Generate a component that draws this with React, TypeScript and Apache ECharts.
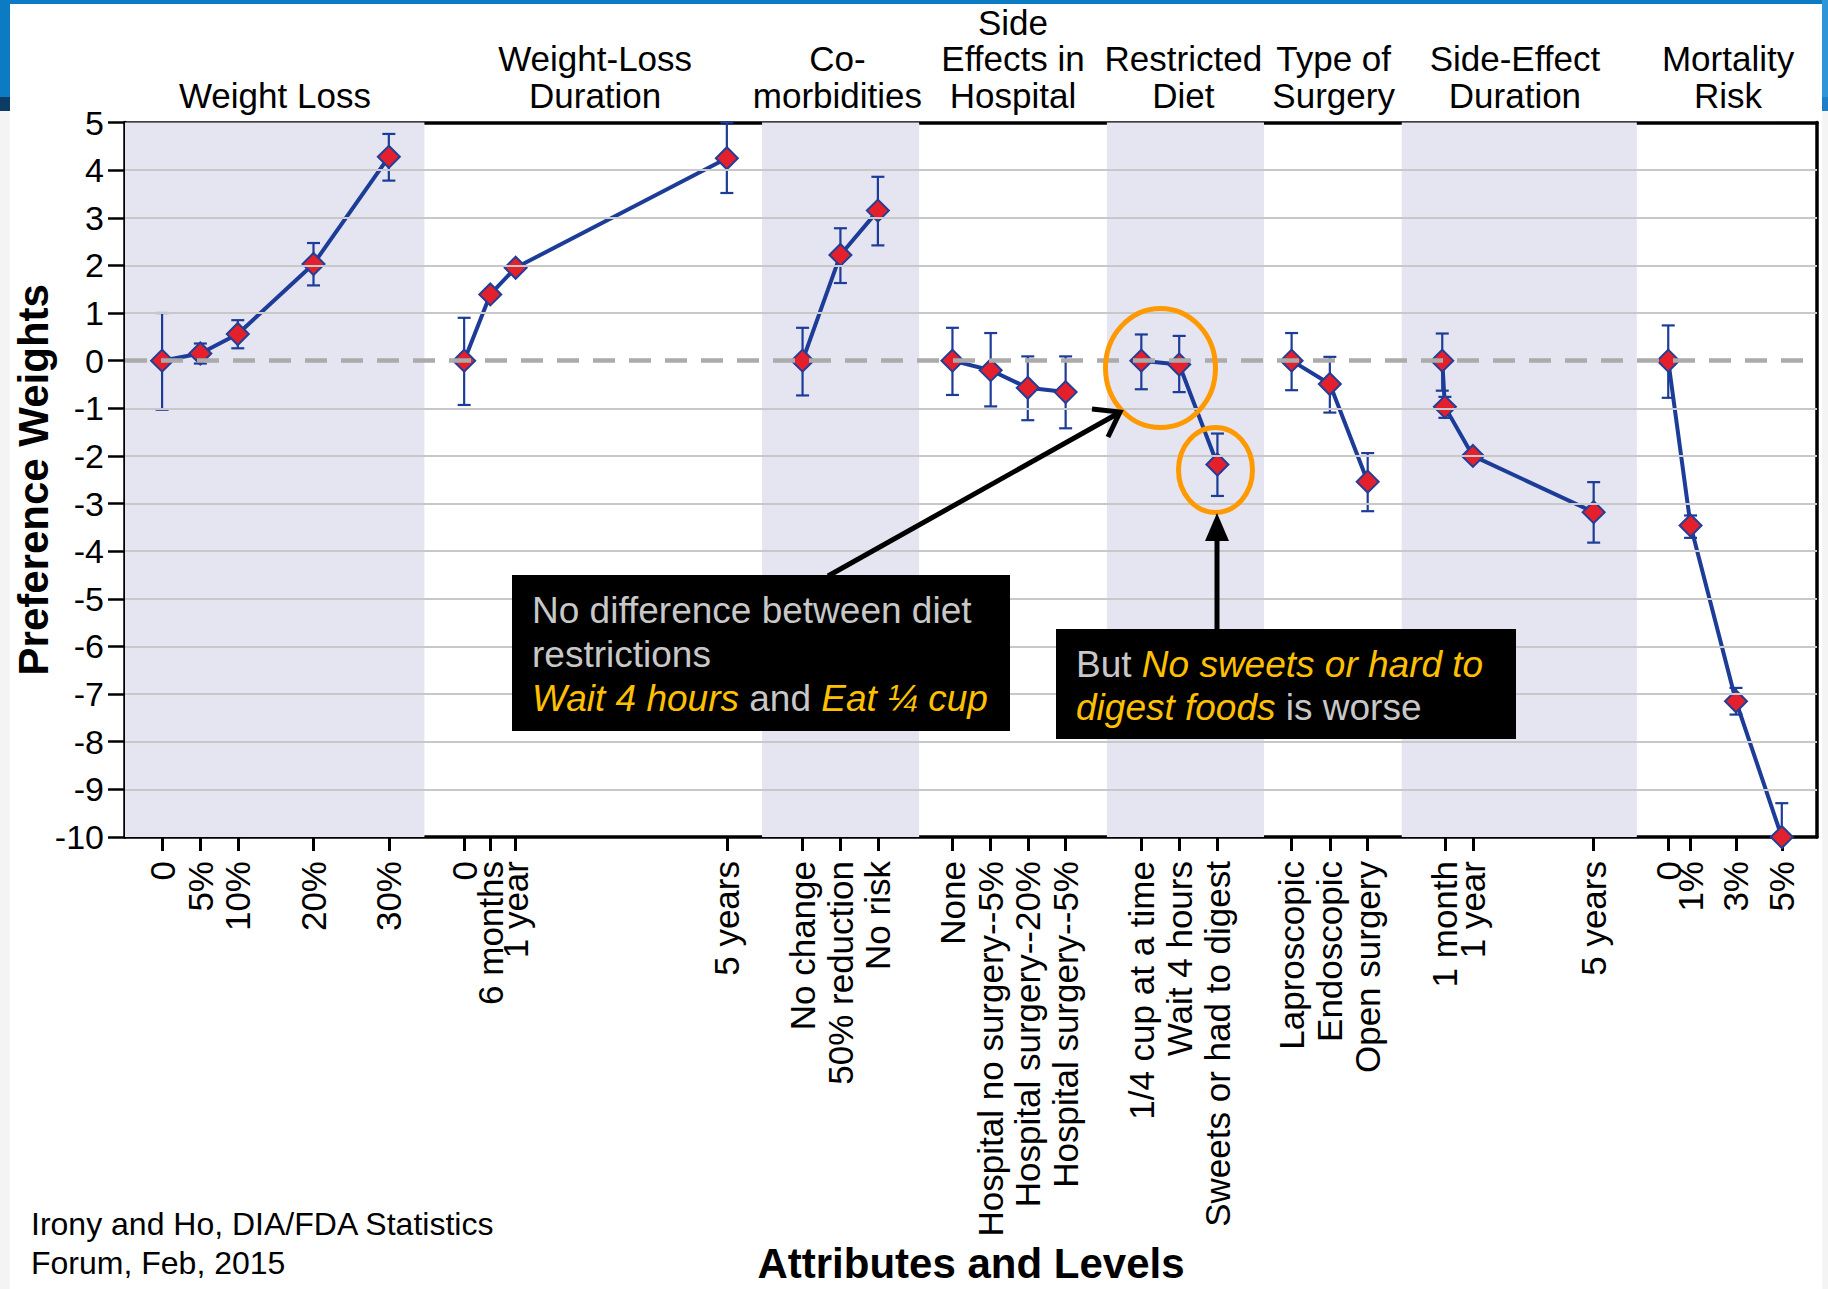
import React, { useEffect, useRef } from 'react';
import * as echarts from 'echarts';

// ---------- data ----------
const attributeNames = [
  'Weight Loss',
  'Weight-Loss\nDuration',
  'Co-\nmorbidities',
  'Side\nEffects in\nHospital',
  'Restricted\nDiet',
  'Type of\nSurgery',
  'Side-Effect\nDuration',
  'Mortality\nRisk',
];
const attributeCenters = [3.96, 12.42, 18.82, 23.46, 27.96, 31.93, 36.72, 42.35];

// shaded attribute bands (x extents)
const bandStart = [0, 16.83, 25.94, 33.73];
const bandEnd = [7.91, 20.98, 30.09, 39.94];

// weight loss
const wlLevels = ['0', '5%', '10%', '20%', '30%'];
const wlPos = [0.98, 1.99, 2.98, 4.98, 6.97];
const wlVal = [0, 0.15, 0.56, 2.03, 4.28];
const wlLow = [-1.03, -0.06, 0.26, 1.58, 3.78];
const wlHigh = [1.0, 0.36, 0.85, 2.47, 4.76];

// weight-loss duration
const wldLevels = ['0', '6 months', '1 year', '5 years'];
const wldPos = [8.96, 9.65, 10.32, 15.9];
const wldVal = [0, 1.39, 1.95, 4.25];
const wldLow = [-0.93, 1.35, 1.91, 3.52];
const wldHigh = [0.9, 1.43, 1.99, 5.0];

// co-morbidities
const comLevels = ['No change', '50% reduction', 'No risk'];
const comPos = [17.9, 18.9, 19.89];
const comVal = [0, 2.22, 3.15];
const comLow = [-0.73, 1.63, 2.42];
const comHigh = [0.69, 2.78, 3.86];

// side effects in hospital
const sehLevels = ['None', 'Hospital no surgery--5%', 'Hospital surgery--20%', 'Hospital surgery--5%'];
const sehPos = [21.86, 22.87, 23.85, 24.85];
const sehVal = [0, -0.2, -0.57, -0.66];
const sehLow = [-0.72, -0.96, -1.25, -1.42];
const sehHigh = [0.69, 0.58, 0.09, 0.09];

// restricted diet
const rdLevels = ['1/4 cup at a time', 'Wait 4 hours', 'Sweets or had to digest'];
const rdPos = [26.85, 27.85, 28.86];
const rdVal = [0, -0.08, -2.18];
const rdLow = [-0.6, -0.66, -2.84];
const rdHigh = [0.55, 0.52, -1.53];

// type of surgery
const tsLevels = ['Laproscopic', 'Endoscopic', 'Open surgery'];
const tsPos = [30.82, 31.83, 32.83];
const tsVal = [0, -0.49, -2.54];
const tsLow = [-0.62, -1.09, -3.16];
const tsHigh = [0.58, 0.08, -1.94];

// side-effect duration
const sedLevels = ['', '1 month', '1 year', '5 years'];
const sedPos = [34.8, 34.87, 35.61, 38.8];
const sedVal = [0, -0.97, -2.0, -3.18];
const sedLow = [-0.63, -1.2, -2.08, -3.82];
const sedHigh = [0.57, -0.76, -1.92, -2.55];

// mortality risk
const mrLevels = ['0', '1%', '3%', '5%'];
const mrPos = [40.77, 41.36, 42.56, 43.77];
const mrVal = [0, -3.46, -7.15, -10.0];
const mrLow = [-0.78, -3.72, -7.43, -10.0];
const mrHigh = [0.74, -3.25, -6.87, -9.29];

const yGridValues = [4, 3, 2, 1, -1, -2, -3, -4, -5, -6, -7, -8, -9];

// ---------- styling ----------
const FONT = '"Liberation Sans", Arial, sans-serif';
const LINE_BLUE = '#1c3c98';
const MARK_RED = '#e5202d';

export default function App() {
  const ref = useRef<HTMLDivElement>(null);

  useEffect(() => {
    document.body.style.margin = '0';
    const chart = echarts.init(ref.current as HTMLDivElement, undefined, { renderer: 'svg' });

    const groups = [
      { labels: wlLevels, pos: wlPos, val: wlVal, lo: wlLow, hi: wlHigh },
      { labels: wldLevels, pos: wldPos, val: wldVal, lo: wldLow, hi: wldHigh },
      { labels: comLevels, pos: comPos, val: comVal, lo: comLow, hi: comHigh },
      { labels: sehLevels, pos: sehPos, val: sehVal, lo: sehLow, hi: sehHigh },
      { labels: rdLevels, pos: rdPos, val: rdVal, lo: rdLow, hi: rdHigh },
      { labels: tsLevels, pos: tsPos, val: tsVal, lo: tsLow, hi: tsHigh },
      { labels: sedLevels, pos: sedPos, val: sedVal, lo: sedLow, hi: sedHigh },
      { labels: mrLevels, pos: mrPos, val: mrVal, lo: mrLow, hi: mrHigh },
    ];

    const tickPos: number[] = [];
    const tickLab: string[] = [];
    const errData: number[][] = [];
    groups.forEach((g) => {
      g.labels.forEach((l, i) => {
        if (l) {
          tickPos.push(g.pos[i]);
          tickLab.push(l);
        }
        errData.push([g.pos[i], g.lo[i], g.hi[i]]);
      });
    });

    const lookup = (vals: number[], labs: string[], v: number) => {
      let best = -1;
      let bd = 1e9;
      vals.forEach((p, i) => {
        const d = Math.abs(p - v);
        if (d < bd) {
          bd = d;
          best = i;
        }
      });
      return bd < 1e-3 ? labs[best] : '';
    };

    const XMAX = 44.7;

    const option: any = {
      animation: false,
      backgroundColor: '#ffffff',
      grid: {
        left: 125,
        top: 122.5,
        width: 1692,
        height: 714.5,
        containLabel: false,
        outerBoundsMode: 'none',
      },
      xAxis: [
        {
          type: 'value',
          min: 0,
          max: XMAX,
          position: 'bottom',
          name: 'Attributes and Levels',
          nameLocation: 'middle',
          nameGap: 405,
          nameMoveOverlap: false,
          nameTextStyle: { fontSize: 42, lineHeight: 42, fontWeight: 'bold', color: '#000', fontFamily: FONT },
          axisLine: { show: true, onZero: false, lineStyle: { color: '#000', width: 3.5 } },
          axisTick: { show: true, customValues: tickPos, length: 14, lineStyle: { color: '#000', width: 3 } },
          axisLabel: {
            customValues: tickPos,
            rotate: 90,
            margin: 24,
            fontSize: 35,
            color: '#000',
            fontFamily: FONT,
            formatter: (v: number) => lookup(tickPos, tickLab, v),
          },
          splitLine: { show: false },
        },
        {
          type: 'value',
          min: 0,
          max: XMAX,
          position: 'top',
          axisLine: { show: true, onZero: false, lineStyle: { color: '#000', width: 3.5 } },
          axisTick: { show: false },
          axisLabel: {
            customValues: attributeCenters,
            margin: 9,
            fontSize: 35,
            lineHeight: 36.5,
            color: '#000',
            fontFamily: FONT,
            align: 'center',
            formatter: (v: number) => lookup(attributeCenters, attributeNames, v),
          },
          splitLine: { show: false },
        },
      ],
      yAxis: [
        {
          type: 'value',
          min: -10,
          max: 5,
          interval: 1,
          position: 'left',
          name: 'Preference Weights',
          nameLocation: 'middle',
          nameGap: 71,
          nameMoveOverlap: false,
          nameTextStyle: { fontSize: 42, lineHeight: 42, fontWeight: 'bold', color: '#000', fontFamily: FONT },
          axisLine: { show: true, onZero: false, lineStyle: { color: '#000', width: 3.5 } },
          axisTick: { show: true, length: 17, lineStyle: { color: '#000', width: 2.5 } },
          axisLabel: { margin: 21, fontSize: 34, color: '#000', fontFamily: FONT },
          splitLine: { show: false },
        },
        {
          type: 'value',
          min: -10,
          max: 5,
          interval: 1,
          position: 'right',
          axisLine: { show: true, onZero: false, lineStyle: { color: '#000', width: 3.5 } },
          axisTick: { show: false },
          axisLabel: { show: false },
          splitLine: { show: false },
        },
      ],
      series: [
        {
          type: 'line',
          data: [],
          z: 1,
          silent: true,
          markArea: {
            silent: true,
            itemStyle: { color: '#e5e5f2' },
            data: bandStart.map((s, i) => [{ xAxis: s }, { xAxis: bandEnd[i] }]),
          },
        },
        {
          type: 'line',
          data: [],
          z: 2,
          silent: true,
          markLine: {
            silent: true,
            symbol: ['none', 'none'],
            label: { show: false },
            lineStyle: { color: '#c8c8c8', width: 2, type: 'solid' },
            data: yGridValues.map((v) => ({ yAxis: v })),
          },
        },
        {
          type: 'line',
          data: [],
          z: 2,
          silent: true,
          markLine: {
            silent: true,
            symbol: ['none', 'none'],
            label: { show: false },
            lineStyle: { color: '#ababab', width: 4.5, type: [22, 14] },
            data: [{ yAxis: 0 }],
          },
        },
        {
          type: 'custom',
          z: 3,
          silent: true,
          data: errData,
          encode: { x: 0, y: [1, 2] },
          renderItem: (params: any, api: any) => {
            const x = api.value(0);
            const a = api.coord([x, api.value(2)]);
            const b = api.coord([x, api.value(1)]);
            const w = 6.5;
            const style = { stroke: LINE_BLUE, lineWidth: 2.2 };
            return {
              type: 'group',
              children: [
                { type: 'line', shape: { x1: a[0], y1: a[1], x2: b[0], y2: b[1] }, style },
                { type: 'line', shape: { x1: a[0] - w, y1: a[1], x2: a[0] + w, y2: a[1] }, style },
                { type: 'line', shape: { x1: b[0] - w, y1: b[1], x2: b[0] + w, y2: b[1] }, style },
              ],
            };
          },
        },
        ...groups.map((g) => ({
          type: 'line',
          z: 4,
          clip: false,
          silent: true,
          data: g.pos.map((p, i) => [p, g.val[i]]),
          symbol: 'diamond',
          symbolSize: 22,
          showAllSymbol: true,
          lineStyle: { color: LINE_BLUE, width: 4 },
          itemStyle: { color: MARK_RED, borderColor: '#233e96', borderWidth: 2 },
        })),
      ],
      graphic: {
        elements: [
          // slide template decoration
          { type: 'rect', z: 0, silent: true, shape: { x: 0, y: 0, width: 1828, height: 4 }, style: { fill: '#0b7cc4' } },
          { type: 'rect', z: 0, silent: true, shape: { x: 0, y: 0, width: 10, height: 97 }, style: { fill: '#0b7cc4' } },
          { type: 'rect', z: 0, silent: true, shape: { x: 0, y: 97, width: 10, height: 14 }, style: { fill: '#0c3c66' } },
          { type: 'rect', z: 0, silent: true, shape: { x: 0, y: 111, width: 10, height: 1178 }, style: { fill: '#f4f4f4' } },
          { type: 'rect', z: 0, silent: true, shape: { x: 1822, y: 0, width: 6, height: 97 }, style: { fill: '#2f95d9' } },
          { type: 'rect', z: 0, silent: true, shape: { x: 1822, y: 97, width: 6, height: 14 }, style: { fill: '#1f80c9' } },
          { type: 'rect', z: 0, silent: true, shape: { x: 1822, y: 111, width: 6, height: 1178 }, style: { fill: '#f4f4f4' } },

          // orange highlight ellipses
          {
            type: 'ellipse', z: 100, silent: true,
            shape: { cx: 1160.5, cy: 368, rx: 55, ry: 59.5 },
            style: { fill: 'none', stroke: '#ff9900', lineWidth: 5 },
          },
          {
            type: 'ellipse', z: 100, silent: true,
            shape: { cx: 1215.5, cy: 470, rx: 37, ry: 42.5 },
            style: { fill: 'none', stroke: '#ff9900', lineWidth: 5 },
          },

          // arrow 1
          {
            type: 'line', z: 100, silent: true,
            shape: { x1: 828, y1: 576, x2: 1117, y2: 414 },
            style: { stroke: '#000', lineWidth: 5 },
          },
          {
            type: 'polyline', z: 100, silent: true,
            shape: { points: [[1092, 409], [1120, 412], [1108, 437]] },
            style: { stroke: '#000', lineWidth: 5, fill: 'none', lineJoin: 'miter' },
          },
          // arrow 2
          {
            type: 'line', z: 100, silent: true,
            shape: { x1: 1217, y1: 630, x2: 1217, y2: 536 },
            style: { stroke: '#000', lineWidth: 5 },
          },
          {
            type: 'polygon', z: 100, silent: true,
            shape: { points: [[1217, 513], [1205, 541], [1229, 541]] },
            style: { fill: '#000' },
          },

          // box 1
          {
            type: 'rect', z: 100, silent: true,
            shape: { x: 512, y: 575, width: 498, height: 156 },
            style: { fill: '#000' },
          },
          {
            type: 'text', z: 101, silent: true, x: 532, y: 588,
            style: {
              text: '{n|No difference between diet}\n{n|restrictions}\n{y|Wait 4 hours}{n| and }{y|Eat ¼ cup}',
              verticalAlign: 'top',
              align: 'left',
              rich: {
                n: { fill: '#c8c8c8', fontSize: 37, fontFamily: FONT, lineHeight: 44 },
                y: { fill: '#ffc000', fontSize: 37, fontFamily: FONT, fontStyle: 'italic', lineHeight: 44 },
              },
            },
          },
          // box 2
          {
            type: 'rect', z: 100, silent: true,
            shape: { x: 1056, y: 629, width: 460, height: 110 },
            style: { fill: '#000' },
          },
          {
            type: 'text', z: 101, silent: true, x: 1076, y: 642.5,
            style: {
              text: '{n|But }{y|No sweets or hard to}\n{y|digest foods}{n| is worse}',
              verticalAlign: 'top',
              align: 'left',
              rich: {
                n: { fill: '#c8c8c8', fontSize: 37, fontFamily: FONT, lineHeight: 43 },
                y: { fill: '#ffc000', fontSize: 37, fontFamily: FONT, fontStyle: 'italic', lineHeight: 43 },
              },
            },
          },

          // citation
          {
            type: 'text', z: 101, silent: true, x: 31, y: 1205,
            style: {
              text: 'Irony and Ho, DIA/FDA Statistics\nForum, Feb, 2015',
              fill: '#000',
              fontSize: 32,
              lineHeight: 38.5,
              fontFamily: FONT,
              verticalAlign: 'top',
              align: 'left',
            },
          },
        ],
      },
    };

    chart.setOption(option);
    return () => {
      chart.dispose();
    };
  }, []);

  return <div ref={ref} style={{ width: 1828, height: 1289 }} />;
}
